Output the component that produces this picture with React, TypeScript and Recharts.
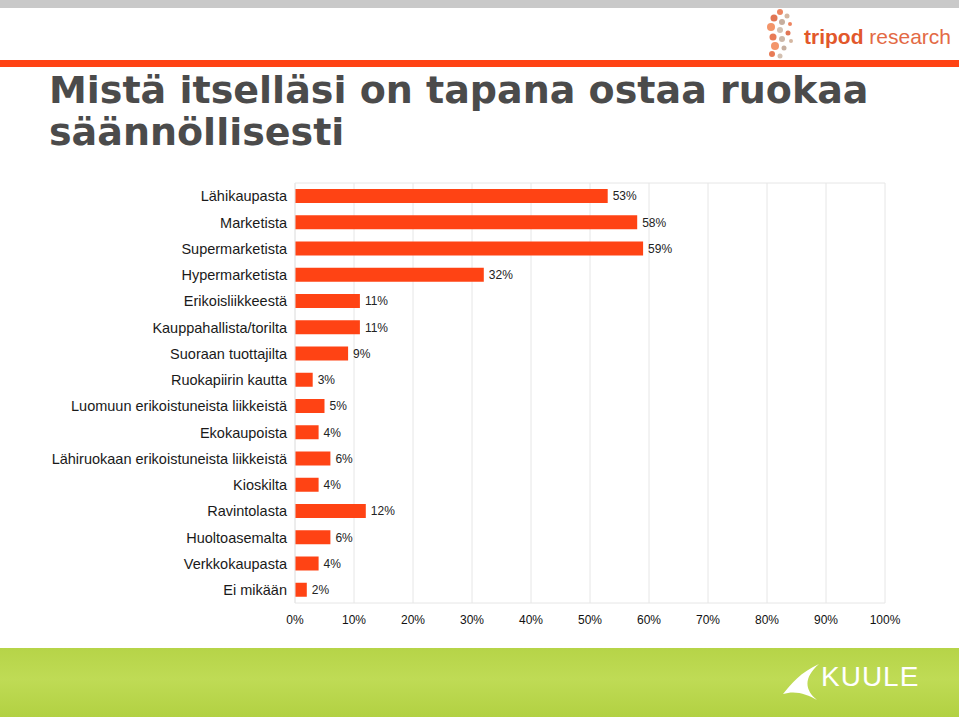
import { BarChart, Bar, XAxis, YAxis, CartesianGrid, LabelList } from 'recharts'

const categories = [
  'Lähikaupasta',
  'Marketista',
  'Supermarketista',
  'Hypermarketista',
  'Erikoisliikkeestä',
  'Kauppahallista/torilta',
  'Suoraan tuottajilta',
  'Ruokapiirin kautta',
  'Luomuun erikoistuneista liikkeistä',
  'Ekokaupoista',
  'Lähiruokaan erikoistuneista liikkeistä',
  'Kioskilta',
  'Ravintolasta',
  'Huoltoasemalta',
  'Verkkokaupasta',
  'Ei mikään',
]
const shares = [53, 58, 59, 32, 11, 11, 9, 3, 5, 4, 6, 4, 12, 6, 4, 2]
const xTicks = [0, 10, 20, 30, 40, 50, 60, 70, 80, 90, 100]

const data = categories.map((name, i) => ({ name, value: shares[i] }))

const BAR = '#ff4314'
const FONT = 'Arial, "Liberation Sans", Helvetica, sans-serif'

// decorative dots of the tripod logo
const logoDots = [
  [20, 6, 3, '#e8663a'], [27, 10, 2.5, '#c9a58a'], [14, 12, 3.5, '#d9542a'], [22, 16, 3, '#b89a86'],
  [30, 18, 2, '#e8663a'], [11, 21, 4, '#f07a45'], [20, 24, 3, '#c8b09e'], [28, 27, 2.5, '#d9542a'],
  [13, 31, 3.5, '#e25a2c'], [22, 33, 3, '#bfa592'], [31, 35, 2, '#c9a58a'], [15, 40, 4, '#f07a45'],
  [24, 42, 2.5, '#b89a86'], [12, 48, 3, '#e25a2c'], [20, 50, 2.5, '#c8b09e'],
] as const

export default function App() {
  return (
    <div style={{ position: 'absolute', left: 0, top: 0, width: 959, height: 719, background: '#fff', overflow: 'hidden', fontFamily: FONT }}>
      {/* header bands */}
      <div style={{ position: 'absolute', left: 0, top: 0, width: 959, height: 8, background: '#c9c9c9' }} />
      <div style={{ position: 'absolute', left: 0, top: 60, width: 959, height: 7, background: BAR }} />
      <svg style={{ position: 'absolute', left: 760, top: 6, width: 199, height: 54 }}>
        {logoDots.map(([cx, cy, r, c], i) => (
          <circle key={i} cx={cx} cy={cy} r={r} fill={c} opacity={0.8} />
        ))}
        <text x={44} y={38} fontSize={21} fontFamily={FONT} fill="#e2582b">
          <tspan fontWeight="bold">tripod</tspan>
          <tspan fill="#e36a45"> research</tspan>
        </text>
      </svg>

      <div style={{ position: 'absolute', left: 49, top: 69, fontFamily: '"DejaVu Sans", Verdana, sans-serif', fontWeight: 'bold', fontSize: 38, lineHeight: '42px', color: '#4b4b4b', whiteSpace: 'nowrap' }}>
        Mistä itselläsi on tapana ostaa ruokaa
        <br />
        säännöllisesti
      </div>

      <div style={{ position: 'absolute', left: 0, top: 160 }}>
        <BarChart
          width={959}
          height={480}
          data={data}
          layout="vertical"
          margin={{ top: 23, right: 74, left: 0, bottom: 0 }}
          barCategoryGap={6}
        >
          <CartesianGrid
            stroke="#e6e6e6"
            horizontal={true}
            horizontalCoordinatesGenerator={({ offset }: any) => [offset.top]}
            vertical={true}
          />
          <XAxis
            type="number"
            domain={[0, 100]}
            ticks={xTicks}
            tickFormatter={(v) => `${v}%`}
            tick={{ fontSize: 12, fill: '#111', fontFamily: FONT }}
            axisLine={{ stroke: '#e6e6e6' }}
            tickLine={false}
            tickSize={0}
            tickMargin={12}
            height={37}
            interval={0}
          />
          <YAxis
            type="category"
            dataKey="name"
            width={295}
            tick={{ fontSize: 14.5, fill: '#1a1a1a', fontFamily: FONT }}
            axisLine={{ stroke: '#e6e6e6' }}
            tickLine={{ stroke: '#e6e6e6' }}
            tickSize={0}
            tickMargin={8}
            interval={0}
          />
          <Bar dataKey="value" fill={BAR} barSize={14} isAnimationActive={false}>
            <LabelList
              dataKey="value"
              position="right"
              offset={5}
              formatter={(v: any) => `${v}%`}
              style={{ fontSize: 12, fill: '#222', fontFamily: FONT }}
            />
          </Bar>
        </BarChart>
      </div>

      {/* footer band */}
      <div style={{ position: 'absolute', left: 0, top: 648, width: 959, height: 69, background: 'linear-gradient(180deg, #b6d448 0%, #bfdb55 45%, #b2d142 100%)' }} />
      <svg style={{ position: 'absolute', left: 775, top: 660, width: 184, height: 50 }}>
        <path d="M44 4 C26 12 16 24 8 34 C20 30 32 34 42 40 C30 30 28 18 44 4 Z" fill="#fff" />
        <text x={46} y={26} fontSize={28} fontFamily={FONT} fill="#fff" letterSpacing={1}>KUULE</text>
      </svg>
    </div>
  )
}
